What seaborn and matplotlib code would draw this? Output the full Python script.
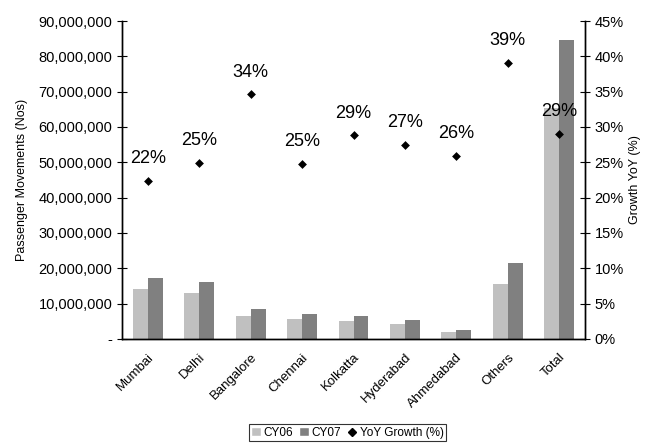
"""
Passenger movements CY06 v. CY07 by airport, with YoY growth
"""

import pandas as pd
import matplotlib
matplotlib.use('Agg')
import matplotlib.pyplot as plt
import matplotlib.ticker as mtick
from matplotlib.lines import Line2D
from matplotlib.patches import Patch
import seaborn as sns

cities = ['Mumbai', 'Delhi', 'Bangalore', 'Chennai', 'Kolkatta',
          'Hyderabad', 'Ahmedabad', 'Others', 'Total']
cy06 = [14200000, 13000000, 6400000, 5700000, 5100000, 4200000, 1900000, 15600000, 65400000]
cy07 = [17300000, 16200000, 8500000, 7100000, 6500000, 5300000, 2500000, 21500000, 84500000]
growth = [22.3, 24.9, 34.6, 24.8, 28.8, 27.4, 25.9, 39.0, 29.0]
growth_labels = ['22%', '25%', '34%', '25%', '29%', '27%', '26%', '39%', '29%']

sns.set_style('white')
plt.rcParams['font.family'] = ['Liberation Sans', 'DejaVu Sans']
for k in ['text.color', 'axes.labelcolor', 'xtick.color', 'ytick.color']:
    plt.rcParams[k] = 'black'

df = pd.DataFrame({'city': cities * 2,
                   'year': ['CY06'] * len(cities) + ['CY07'] * len(cities),
                   'pax': cy06 + cy07})
gdf = pd.DataFrame({'city': cities, 'growth': growth})

fig = plt.figure(figsize = (6.47, 4.47), dpi = 100)
ax = fig.add_axes([0.189, 0.242, 0.715, 0.711])

sns.barplot(x = 'city', y = 'pax', hue = 'year', data = df, ax = ax,
            palette = ['#C0C0C0', '#808080'], width = 0.58, saturation = 1,
            legend = False, linewidth = 0)
ax.set_ylim(0, 90000000)
ax.set_xlim(-0.5, len(cities) - 0.5)
ax.set_yticks(range(0, 90000001, 10000000))
ax.yaxis.set_major_formatter(mtick.FuncFormatter(lambda v, p: '-' if v == 0 else '{:,.0f}'.format(v)))
ax.set_ylabel('Passenger Movements (Nos)', fontsize = 9, labelpad = 8)
ax.set_xlabel('')

# x ticks sit between the groups
ax.set_xticks([i + 0.5 for i in range(-1, len(cities))], minor = False)
ax.set_xticklabels([])
ax.set_xticks(range(len(cities)), minor = True)
ax.set_xticklabels(cities, minor = True, rotation = 45, ha = 'right',
                   rotation_mode = 'anchor', fontsize = 9.5)
ax.tick_params(axis = 'x', which = 'major', direction = 'inout', length = 7, width = 1)
ax.tick_params(axis = 'x', which = 'minor', length = 0, pad = 9)
ax.tick_params(axis = 'y', direction = 'inout', length = 7, labelsize = 10.5, left = True)

ax2 = ax.twinx()
sns.stripplot(x = 'city', y = 'growth', data = gdf, ax = ax2, jitter = False,
              marker = 'D', color = 'black', size = 4.5, native_scale = False)
ax2.set_ylim(0, 45)
ax2.set_xlim(-0.5, len(cities) - 0.5)
ax2.set_yticks(range(0, 46, 5))
ax2.yaxis.set_major_formatter(mtick.FuncFormatter(lambda v, p: '{:.0f}%'.format(v)))
ax2.set_ylabel('Growth YoY (%)', fontsize = 9, labelpad = 4)
ax2.set_xlabel('')
ax2.tick_params(axis = 'y', direction = 'inout', length = 7, labelsize = 10.5, right = True)

for i, (g, lab) in enumerate(zip(growth, growth_labels)):
    ax2.annotate(lab, (i, g), xytext = (0, 10), textcoords = 'offset points',
                 ha = 'center', va = 'bottom', fontsize = 13)

for a in [ax, ax2]:
    a.spines['top'].set_visible(False)
    for s in ['left', 'right', 'bottom']:
        a.spines[s].set_color('black')
        a.spines[s].set_linewidth(1)

handles = [Patch(facecolor = '#C0C0C0', label = 'CY06'),
           Patch(facecolor = '#808080', label = 'CY07'),
           Line2D([], [], marker = 'D', color = 'black', linestyle = 'none',
                  markersize = 4, label = 'YoY Growth (%)')]
leg = fig.legend(handles = handles, loc = 'lower center', ncol = 3,
                 bbox_to_anchor = (0.537, 0.0), fontsize = 8.5, frameon = True,
                 fancybox = False, edgecolor = 'black', handlelength = 0.8,
                 handletextpad = 0.25, columnspacing = 0.5, borderpad = 0.2)
leg.get_frame().set_linewidth(0.8)

plt.savefig('out.png', dpi = 100)
